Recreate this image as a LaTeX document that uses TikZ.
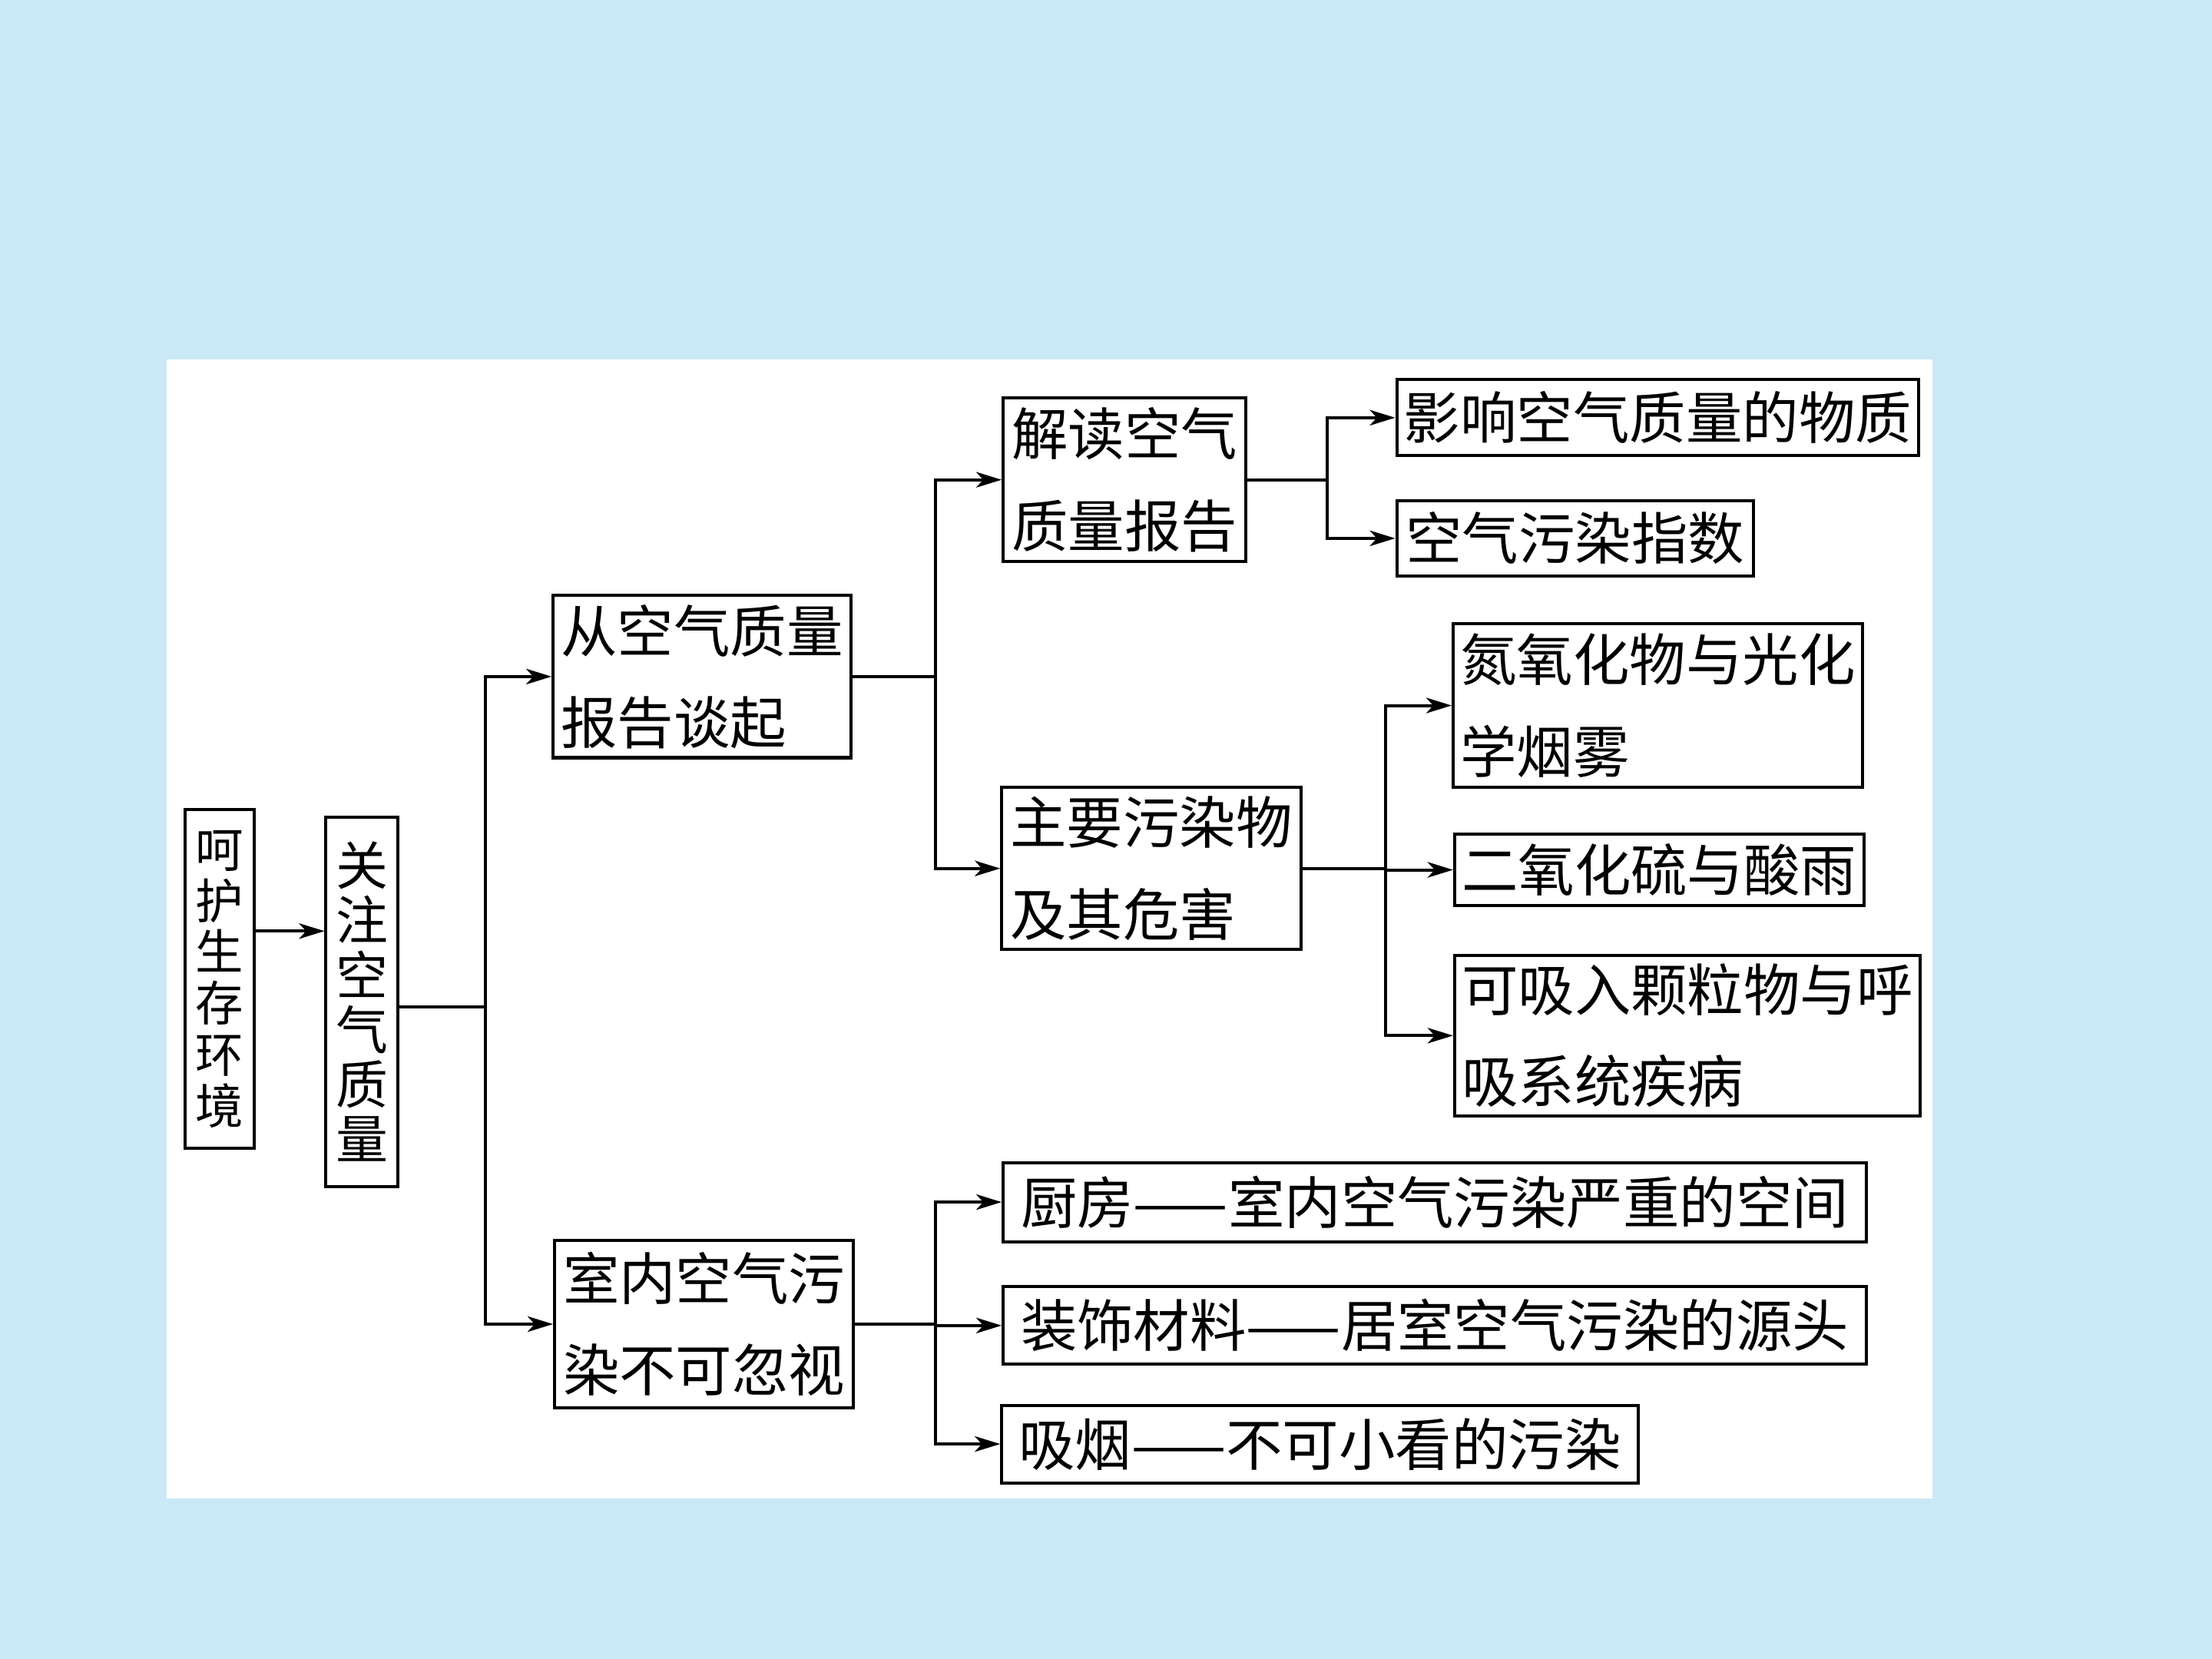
\documentclass[tikz,border=0pt]{standalone}
\usepackage{fontspec}
\newfontfamily\cjk{Noto Sans CJK SC}
\usetikzlibrary{arrows.meta}
\definecolor{bgblue}{RGB}{202,233,246}

\begin{document}
\begin{tikzpicture}[x=0.5pt, y=-0.5pt, line width=1.1pt,
  font=\cjk\fontsize{20}{32.5}\selectfont,
  box/.style={draw, anchor=north west, align=left, inner xsep=2.5pt, inner ysep=0pt},
  arr/.style={-{Stealth[length=9pt, width=5.5pt, inset=2.5pt]}}]
  \useasboundingbox (0,0) rectangle (1568,1176);
  \fill[bgblue] (0,0) rectangle (1568,1176);
  \fill[white] (118,255) rectangle (1370,1062);

  % left column
  \node[box, minimum width=24.5pt, minimum height=120pt, align=center, inner xsep=0pt,
    font=\cjk\fontsize{17}{18.2}\selectfont] (protect) at (130,573) {呵\\护\\生\\存\\环\\境};
  \node[box, minimum width=25.5pt, minimum height=131pt, align=center, inner xsep=0pt,
    font=\cjk\fontsize{18.5}{19.4}\selectfont] (focus) at (230,578) {关\\注\\空\\气\\质\\量};

  \node[box, minimum width=105.5pt, minimum height=57.5pt] (report) at (391,421) {从空气质量\\报告谈起};
  \node[box, minimum width=106pt, minimum height=59.5pt] (indoor) at (392,878) {室内空气污\\染不可忽视};

  \node[box, minimum width=86pt, minimum height=58pt] (read) at (710,281) {解读空气\\质量报告};
  \node[box, minimum width=106pt, minimum height=57.5pt] (harm) at (709,557) {主要污染物\\及其危害};

  % right column
  \node[box, minimum width=184.5pt, minimum height=27pt] (subst) at (989,268) {影响空气质量的物质};
  \node[box, minimum width=126.5pt, minimum height=26.5pt] (index) at (989,354) {空气污染指数};
  \node[box, minimum width=144.5pt, minimum height=58pt] (nox) at (1029,441) {氮氧化物与光化\\学烟雾};
  \node[box, minimum width=143pt, minimum height=25.5pt] (sotwo) at (1030,590) {二氧化硫与酸雨};
  \node[box, minimum width=164.5pt, minimum height=57pt] (dust) at (1030,676) {可吸入颗粒物与呼\\吸系统疾病};
  \node[box, minimum width=306pt, minimum height=28pt] (kitchen) at (710,823) {厨房——室内空气污染严重的空间};
  \node[box, minimum width=306pt, minimum height=27.5pt] (decor) at (710,911) {装饰材料——居室空气污染的源头};
  \node[box, minimum width=225.5pt, minimum height=27.5pt] (smoke) at (709,995) {吸烟——不可小看的污染};

  % branch points
  \coordinate (ab) at (179,660);
  \coordinate (j1) at (344,714);
  \coordinate (j2) at (663,0);
  \coordinate (j3) at (941,0);
  \coordinate (j4) at (982,0);

  \draw[arr] (protect.east |- ab) -- (focus.west |- ab);
  \draw (focus.east |- j1) -- (j1);
  \draw[arr] (j1) |- (report.west);
  \draw[arr] (j1) |- (indoor.west);

  \draw (report.east) -- (j2 |- report.east);
  \draw[arr] (j2 |- report.east) |- (read.west);
  \draw[arr] (j2 |- report.east) |- (harm.west);

  \draw (read.east) -- (j3 |- read.east);
  \draw[arr] (j3 |- read.east) |- (subst.west);
  \draw[arr] (j3 |- read.east) |- (index.west);

  \draw (harm.east) -- (j4 |- harm.east);
  \draw[arr] (j4 |- harm.east) |- (nox.west);
  \draw[arr] (j4 |- harm.east) |- (sotwo.west);
  \draw[arr] (j4 |- harm.east) |- (dust.west);

  \draw (indoor.east) -- (j2 |- indoor.east);
  \draw[arr] (j2 |- indoor.east) |- (kitchen.west);
  \draw[arr] (j2 |- indoor.east) |- (decor.west);
  \draw[arr] (j2 |- indoor.east) |- (smoke.west);
\end{tikzpicture}
\end{document}
